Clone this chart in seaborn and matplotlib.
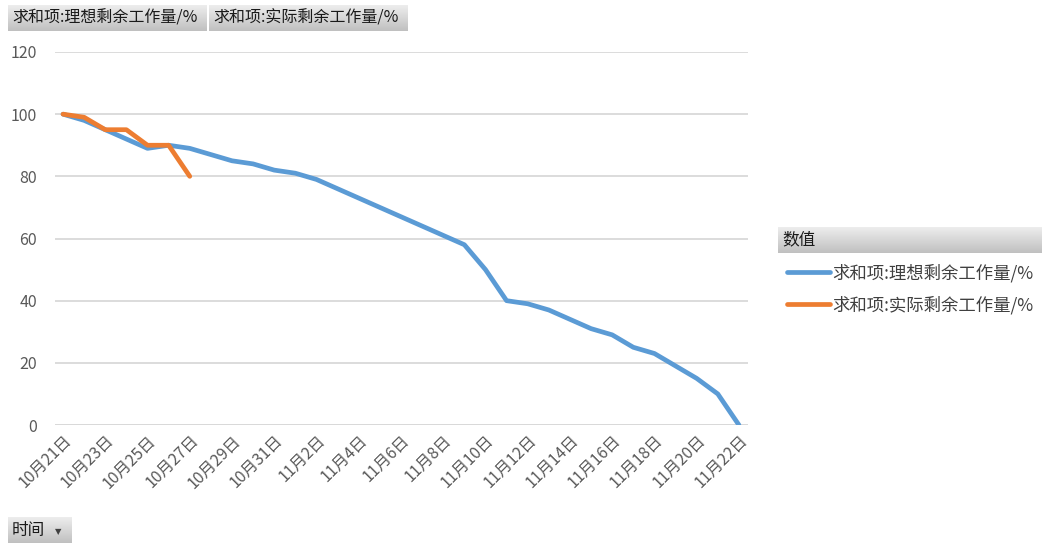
import numpy as np
import pandas as pd
import matplotlib.pyplot as plt
import seaborn as sns
from matplotlib.lines import Line2D

# dates: 10/21 .. 11/22
dates = pd.date_range("2023-10-21", "2023-11-22", freq="D")
date_labels = [f"{d.month}月{d.day}日" for d in dates]

ideal = [100, 98, 95, 92, 89, 90, 89, 87, 85, 84, 82, 81, 79, 76, 73, 70, 67,
         64, 61, 58, 50, 40, 39, 37, 34, 31, 29, 25, 23, 19, 15, 10, 0]
actual = [100, 99, 95, 95, 90, 90, 80]

name_ideal = "求和项:理想剩余工作量/%"
name_actual = "求和项:实际剩余工作量/%"

df = pd.concat([
    pd.DataFrame({"day": range(len(ideal)), "value": ideal, "series": name_ideal}),
    pd.DataFrame({"day": range(len(actual)), "value": actual, "series": name_actual}),
])

sns.set_style("white")
plt.rcParams["font.family"] = ["Noto Sans CJK SC", "DejaVu Sans"]

W, H = 1048, 549
fig = plt.figure(figsize=(W / 100, H / 100), dpi=100)
ax = fig.add_axes([55 / W, 1 - 425 / H, (748 - 55) / W, (425 - 52) / H])

colors = {name_ideal: "#5B9BD5", name_actual: "#ED7D31"}
sns.lineplot(data=df, x="day", y="value", hue="series", palette=colors,
             lw=3.4, ax=ax, legend=False, sort=False)

ax.set_xlim(-0.38, 32.43)
ax.set_ylim(0, 120)
ax.set_yticks(range(0, 121, 20))
ax.yaxis.grid(True, color="#D9D9D9", lw=1.3)
ax.set_axisbelow(True)
ax.set_xticks(range(0, len(dates), 2))
ax.set_xticklabels(date_labels[::2], rotation=45, ha="right", rotation_mode="anchor")
ax.tick_params(axis="y", length=0, pad=13, labelsize=11.5, labelcolor="#595959")
ax.tick_params(axis="x", length=0, pad=5, labelsize=11.5, labelcolor="#595959")
ax.set_xlabel("")
ax.set_ylabel("")
for s in ax.spines.values():
    s.set_visible(False)
ax.axhline(0, color="#D9D9D9", lw=1.3, zorder=0)

grad = np.linspace(0, 1, 50).reshape(-1, 1)
gcmap = plt.matplotlib.colors.LinearSegmentedColormap.from_list("g", ["#EDEDED", "#C0C0C0"])


def button(x0, y0, x1, y1, text, fs=11.5, arrow=False):
    bax = fig.add_axes([x0 / W, 1 - y1 / H, (x1 - x0) / W, (y1 - y0) / H])
    bax.imshow(grad, aspect="auto", cmap=gcmap, extent=(0, 1, 0, 1), origin="upper")
    bax.set_xlim(0, 1)
    bax.set_ylim(0, 1)
    bax.axis("off")
    bax.text(4 / (x1 - x0), 0.5, text, fontsize=fs, va="center", ha="left", color="#1a1a1a")
    if arrow:
        bax.text(1 - 14 / (x1 - x0), 0.45, "▼", fontsize=6, va="center", ha="center",
                 color="#404040", family="DejaVu Sans")


button(8, 5, 206, 31, name_ideal)
button(209, 5, 408, 31, name_actual)
button(778, 227, 1042, 253, "数值", fs=12)
button(8, 517, 72, 543, "时间", fs=12, arrow=True)

handles = [Line2D([], [], color=colors[name_ideal], lw=3.4),
           Line2D([], [], color=colors[name_actual], lw=3.4)]
fig.legend(handles, [name_ideal, name_actual], loc="upper left",
           bbox_to_anchor=(780 / W, 1 - 257 / H), frameon=False,
           fontsize=12.5, handlelength=2.5, handletextpad=0.1,
           labelspacing=0.75, borderaxespad=0, labelcolor="#404040")

plt.savefig("out.png", dpi=100)
